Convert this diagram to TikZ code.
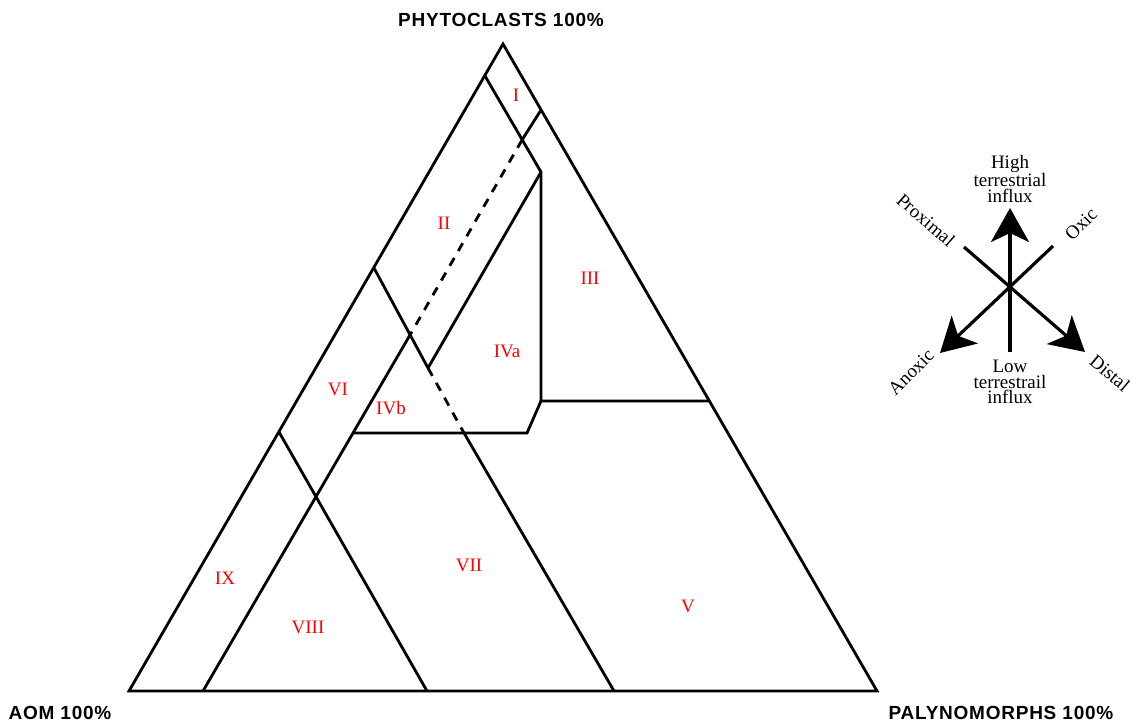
\documentclass[tikz,border=0pt]{standalone}
\usepackage{fontspec}
\setmainfont{Liberation Serif}
\newfontfamily\arialfont[LetterSpace=4]{Liberation Sans}
\usetikzlibrary{arrows.meta}
\begin{document}
\begin{tikzpicture}[x=1pt,y=-1pt,
  edge/.style={line width=2.8pt},
  dashedge/.style={line width=2.8pt, dash pattern=on 9pt off 8pt},
  field/.style={text=red, font=\fontsize{19}{19}\selectfont, inner sep=0pt},
  corner/.style={font=\arialfont\bfseries\fontsize{19}{19}\selectfont, inner sep=0pt},
  cmparrow/.style={line width=3.2pt, -{Stealth[length=34pt,width=38pt,inset=9pt]}},
  cmplabel/.style={font=\fontsize{19}{15.5}\selectfont, align=center, inner sep=0pt}]
\useasboundingbox (0,0) rectangle (1142,725);
% main triangle
\coordinate (A) at (503,44);
\coordinate (L) at (129,691);
\coordinate (R) at (877,691);
\draw[edge] (A) -- (L) -- (R) -- cycle;
% points
\coordinate (p1) at (485,76);
\coordinate (p2) at (541,172);
\coordinate (p3) at (522,140);
\coordinate (p4) at (541,110);
\coordinate (p5) at (410,335);
\coordinate (p6) at (203,691);
\coordinate (p7) at (541,401);
\coordinate (p8) at (709,401);
\coordinate (p9) at (527,433);
\coordinate (p10) at (353,433);
\coordinate (p11) at (428,368);
\coordinate (p12) at (374,268);
\coordinate (p13) at (464,433);
\coordinate (p14) at (614,691);
\coordinate (p15) at (279,432);
\coordinate (p16) at (427,691);
% boundaries
\draw[edge] (p1) -- (p2) -- (p7) -- (p8);
\draw[edge] (p4) -- (p3);
\draw[dashedge] (p3) -- (p5);
\draw[edge] (p5) -- (p6);
\draw[edge] (p7) -- (p9) -- (p10);
\draw[edge] (p2) -- (p11);
\draw[edge] (p12) -- (p11);
\draw[dashedge] (p11) -- (p13);
\draw[edge] (p13) -- (p14);
\draw[edge] (p15) -- (p16);
% field labels
\node[field] (fI) at (516,95) {I};
\node[field] (fII) at (444,223) {II};
\node[field] (fIII) at (590,278) {III};
\node[field] (fIVa) at (507,351) {IVa};
\node[field] (fIVb) at (391,408) {IVb};
\node[field] (fVI) at (338,389) {VI};
\node[field] (fVII) at (469,565) {VII};
\node[field] (fV) at (688,606) {V};
\node[field] (fIX) at (225,578) {IX};
\node[field] (fVIII) at (308,627) {VIII};
% corner labels
\node[corner] (top) at (501,20) {PHYTOCLASTS 100\%};
\node[corner] (aom) at (60,713) {AOM 100\%};
\node[corner] (paly) at (1001,713) {PALYNOMORPHS 100\%};
% compass
\coordinate (cb) at (1010,352);
\coordinate (ct) at (1010,208);
\coordinate (cnw) at (964,247);
\coordinate (cse) at (1085,352);
\coordinate (cne) at (1053,246);
\coordinate (csw) at (940,353);
\draw[cmparrow] (cb) -- (ct);
\draw[cmparrow] (cnw) -- (cse);
\draw[cmparrow] (cne) -- (csw);
\node[cmplabel] (high) at (1010,179) {High\\terrestrial\\influx};
\node[cmplabel] (low) at (1010,382) {Low\\terrestrail\\influx};
\node[cmplabel, rotate=-41] (prox) at (926,220) {Proximal};
\node[cmplabel, rotate=45] (oxic) at (1081,224) {Oxic};
\node[cmplabel, rotate=45] (anox) at (911,372) {Anoxic};
\node[cmplabel, rotate=-40] (dist) at (1110,373) {Distal};
\end{tikzpicture}
\end{document}
